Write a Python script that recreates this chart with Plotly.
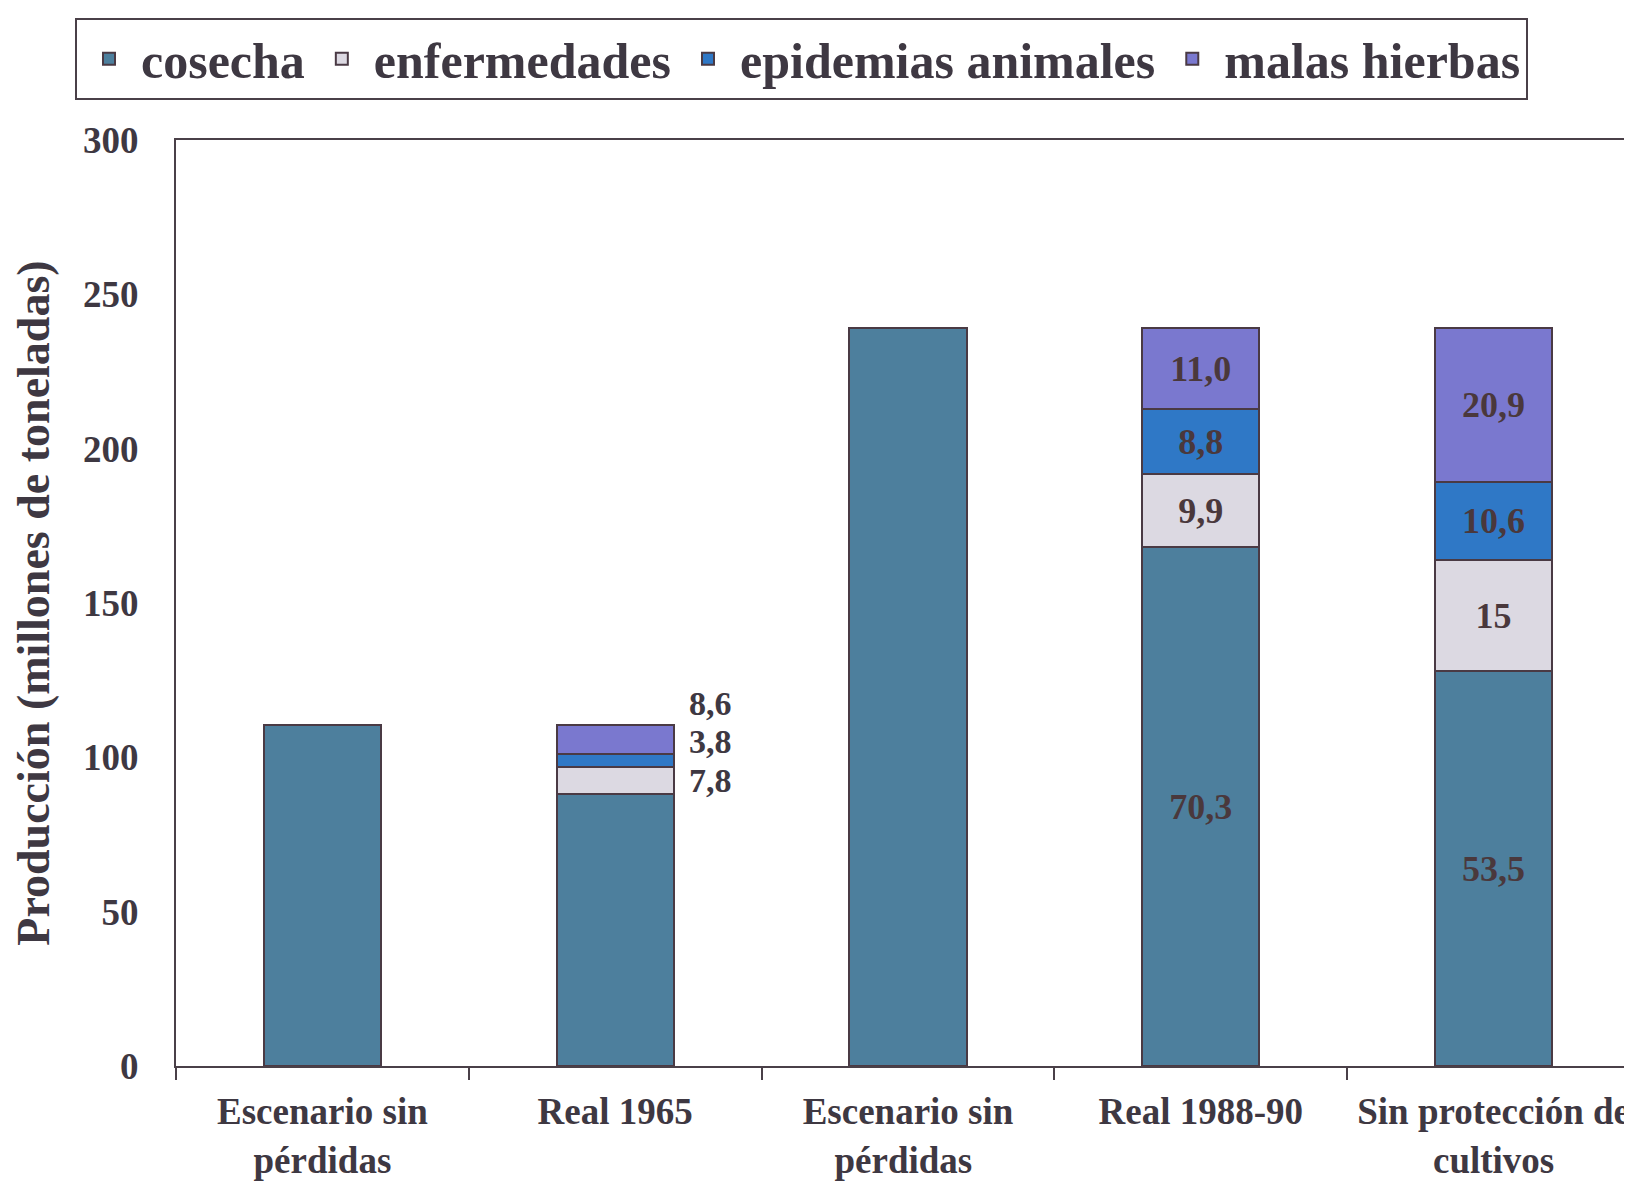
import plotly.graph_objects as go

categories = ["Escenario sin<br>pérdidas", "Real 1965", "Escenario sin<br>pérdidas ",
              "Real 1988-90", "Sin protección de<br>cultivos"]
series_names = ["cosecha", "enfermedades", "epidemias animales", "malas hierbas"]

# production in millions of tonnes
cosecha = [110.5, 88.2, 239.0, 168.0, 127.9]
enfermedades = [0, 8.6, 0, 23.7, 35.9]
epidemias = [0, 4.2, 0, 21.0, 25.3]
malas_hierbas = [0, 9.5, 0, 26.3, 50.0]

# percentage labels printed on the chart
lab_cosecha = ["", "79,8", "", "70,3", "53,5"]
lab_enfermedades = ["", "7,8", "", "9,9", "15"]
lab_epidemias = ["", "3,8", "", "8,8", "10,6"]
lab_malas = ["", "8,6", "", "11,0", "20,9"]

colors = ["#4d7f9d", "#dcd9e2", "#2f78c6", "#7a78cf"]
FONT = "Liberation Serif"
TXT = "#3e3842"
INTXT = "#4a383c"

series = [cosecha, enfermedades, epidemias, malas_hierbas]
labels = [lab_cosecha, lab_enfermedades, lab_epidemias, lab_malas]

fig = go.Figure()
outside_idx = 1  # Real 1965 labels are printed outside, to the right
for name, vals, labs, col in zip(series_names, series, labels, colors):
    txt = ["" if i == outside_idx else t for i, t in enumerate(labs)]
    fig.add_trace(go.Bar(
        x=categories, y=vals, name=name, text=txt,
        textposition="inside", insidetextanchor="middle",
        textfont=dict(family=FONT, size=36, color=INTXT, weight="bold"),
        marker=dict(color=col, line=dict(color="#4a3a44", width=2)),
        width=0.4, cliponaxis=False, hoverinfo="skip",
    ))

# outside labels for Real 1965, stacked beside the bar segments
base = series[0][outside_idx]
prev_y = None
for k in range(1, 4):
    v = series[k][outside_idx]
    centre = base + v / 2
    y = centre if prev_y is None else max(centre, prev_y + 12.5)
    prev_y = y
    base += v
    fig.add_annotation(x=categories[outside_idx], y=y, xref="x", yref="y",
                       text=labels[k][outside_idx], showarrow=False, xshift=95,
                       font=dict(family=FONT, size=34, color=TXT, weight="bold"))

fig.update_layout(
    width=1632, height=1190,
    barmode="stack",
    paper_bgcolor="white", plot_bgcolor="white",
    margin=dict(l=168, r=0, t=132, b=132),
    font=dict(family=FONT, color=TXT),
    showlegend=True,
    legend=dict(orientation="h", x=-0.069, xanchor="left", y=1.132, yanchor="top",
                bordercolor="#4a4048", borderwidth=2,
                font=dict(family=FONT, size=50, color=TXT, weight="bold"),
                traceorder="normal", itemwidth=54),
    uniformtext=dict(mode=False),
)
fig.update_xaxes(
    type="category", tickson="boundaries", ticks="outside", ticklen=12,
    tickcolor="#4a4048", tickwidth=2,
    showline=True, linecolor="#4a4048", linewidth=2, mirror=True,
    showgrid=False, tickfont=dict(family=FONT, size=37, color=TXT, weight="bold"),
    ticklabelstandoff=12,
)
fig.update_yaxes(
    range=[0, 300], dtick=50, ticks="", showgrid=False, zeroline=False,
    showline=True, linecolor="#4a4048", linewidth=2,
    tickfont=dict(family=FONT, size=37, color=TXT, weight="bold"),
    ticklabelstandoff=28,
    title=dict(text="Producción (millones de toneladas)",
               font=dict(family=FONT, size=46, color=TXT, weight="bold"), standoff=26),
)

fig.write_html("out.html")
